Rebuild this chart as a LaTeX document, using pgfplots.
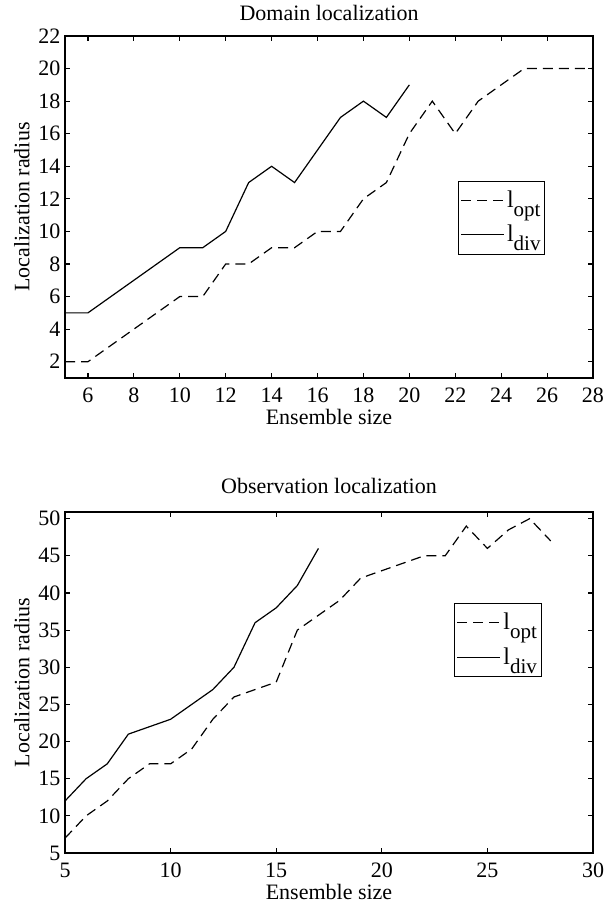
\documentclass[border=0pt]{standalone}
\usepackage{fontspec}
\setmainfont{Liberation Serif}
\usepackage{pgfplots}
\pgfplotsset{compat=1.18}

\pgfplotsset{
  loc/.style={
    scale only axis, width=264pt, height=171pt,
    anchor=south west,
    axis line style={line width=0.55pt},
    every tick/.style={line width=0.55pt, black},
    major tick length=2.6pt,
    tick align=inside,
    font=\fontsize{11}{13}\selectfont,
    /pgf/number format/assume math mode=true,
    xticklabel style={yshift=-1.5pt},
    yticklabel style={xshift=1.2pt},
    xlabel={Ensemble size},
    ylabel={Localization radius},
    xlabel style={at={(axis description cs:0.5,-0.114)}, anchor=center},
    ylabel style={at={(axis description cs:-0.0815,0.5)}, anchor=center},
    legend cell align=left,
    legend style={draw=black, line width=0.55pt, inner xsep=1pt, inner ysep=3.5pt,
      font=\fontsize{12}{14}\selectfont, row sep=5pt,
      nodes={inner sep=1.2pt}},
    legend image code/.code={\draw[#1] (0pt,0pt) -- (21.5pt,0pt);},
    opt/.style={black, line width=0.6pt, dash pattern=on 5pt off 3pt},
    div/.style={black, line width=0.6pt},
  }
}

\newcommand{\lopt}{l\raisebox{-4.5pt}{\fontsize{10.5}{12}\selectfont opt}}
\newcommand{\ldiv}{l\raisebox{-4.5pt}{\fontsize{10.5}{12}\selectfont div}}

\begin{document}
\begin{tikzpicture}
\useasboundingbox (0,0) rectangle (302.5pt,452.5pt);

\begin{axis}[loc, at={(32.5pt,263.5pt)},
  xmin=5, xmax=28, ymin=1, ymax=22,
  xtick={6,8,...,28}, ytick={2,4,...,22},
  title={Domain localization},
  title style={at={(axis description cs:0.5,1)}, anchor=center, yshift=5.5pt},
  legend style={at={(0.91,0.577)}, anchor=north east},
]
\addplot[opt] coordinates {
  (5,2) (6,2) (7,3) (8,4) (9,5) (10,6) (11,6) (12,8) (13,8) (14,9)
  (15,9) (16,10) (17,10) (18,12) (19,13) (20,16) (21,18) (22,16)
  (23,18) (24,19) (25,20) (26,20) (27,20) (28,20)};
\addplot[div] coordinates {
  (5,5) (6,5) (7,6) (8,7) (9,8) (10,9) (11,9) (12,10) (13,13) (14,14)
  (15,13) (16,15) (17,17) (18,18) (19,17) (20,19)};
\legend{\lopt,\ldiv}
\end{axis}

\begin{axis}[loc, at={(32.5pt,26pt)}, height=170.5pt,
  xmin=5, xmax=30, ymin=5, ymax=50.9,
  xtick={5,10,...,30}, ytick={5,10,...,50},
  title={Observation localization},
  title style={at={(axis description cs:0.5,1)}, anchor=center, yshift=7pt},
  legend style={at={(0.903,0.733)}, anchor=north east},
]
\addplot[opt] coordinates {
  (5,7) (6,10) (7,12) (8,15) (9,17) (10,17) (11,19) (12,23) (13,26)
  (14,27) (15,28) (16,35) (17,37) (18,39) (19,42) (20,43) (21,44)
  (22,45) (23,45) (24,49) (25,46) (26,48.5) (27,50) (28,47)};
\addplot[div] coordinates {
  (5,12) (6,15) (7,17) (8,21) (9,22) (10,23) (11,25) (12,27) (13,30)
  (14,36) (15,38) (16,41) (17,46)};
\legend{\lopt,\ldiv}
\end{axis}
\end{tikzpicture}
\end{document}
